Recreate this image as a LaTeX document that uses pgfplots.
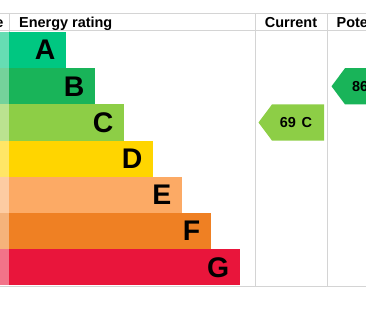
\documentclass[border=0pt]{standalone}
\usepackage{pgfplots}
\pgfplotsset{compat=1.18}
\usepackage{fontspec}
\setmainfont{Liberation Sans}
\definecolor{cA}{HTML}{00C781}
\definecolor{cB}{HTML}{19B459}
\definecolor{cC}{HTML}{8DCE46}
\definecolor{cD}{HTML}{FFD500}
\definecolor{cE}{HTML}{FCAA65}
\definecolor{cF}{HTML}{EF8023}
\definecolor{cG}{HTML}{E9153B}
\definecolor{gridc}{HTML}{D4D4D4}
\begin{document}
\begin{tikzpicture}
\clip (0,0) rectangle (366bp,311bp);
\begin{axis}[at={(0,0)}, anchor=south west, scale only axis,
  width=366bp, height=311bp, xmin=0, xmax=366, ymin=0, ymax=311,
  y dir=reverse, axis lines=none, ticks=none, clip=true]
% score column tints
\addplot[fill=cA!60!white, draw=none] coordinates {(0,32) (9,32) (9,68.2) (0,68.2)} --cycle;
\addplot[fill=cB!60!white, draw=none] coordinates {(0,68.2) (9,68.2) (9,104.4) (0,104.4)} --cycle;
\addplot[fill=cC!60!white, draw=none] coordinates {(0,104.4) (9,104.4) (9,140.6) (0,140.6)} --cycle;
\addplot[fill=cD!60!white, draw=none] coordinates {(0,140.6) (9,140.6) (9,176.8) (0,176.8)} --cycle;
\addplot[fill=cE!60!white, draw=none] coordinates {(0,176.8) (9,176.8) (9,213) (0,213)} --cycle;
\addplot[fill=cF!60!white, draw=none] coordinates {(0,213) (9,213) (9,249.2) (0,249.2)} --cycle;
\addplot[fill=cG!60!white, draw=none] coordinates {(0,249.2) (9,249.2) (9,285.4) (0,285.4)} --cycle;
% bands
\addplot[fill=cA, draw=none] coordinates {(9,32) (66,32) (66,68.2) (9,68.2)} --cycle;
\addplot[fill=cB, draw=none] coordinates {(9,68.2) (95,68.2) (95,104.4) (9,104.4)} --cycle;
\addplot[fill=cC, draw=none] coordinates {(9,104.4) (124,104.4) (124,140.6) (9,140.6)} --cycle;
\addplot[fill=cD, draw=none] coordinates {(9,140.6) (153,140.6) (153,176.8) (9,176.8)} --cycle;
\addplot[fill=cE, draw=none] coordinates {(9,176.8) (182,176.8) (182,213) (9,213)} --cycle;
\addplot[fill=cF, draw=none] coordinates {(9,213) (211,213) (211,249.2) (9,249.2)} --cycle;
\addplot[fill=cG, draw=none] coordinates {(9,249.2) (240,249.2) (240,285.4) (9,285.4)} --cycle;
% grid lines
\addplot[gridc, line width=1bp] coordinates {(0,14) (366,14)};
\addplot[gridc, line width=1bp] coordinates {(0,31) (366,31)};
\addplot[gridc, line width=1bp] coordinates {(0,286) (366,286)};
\addplot[gridc, line width=1bp] coordinates {(9,14) (9,32)};
\addplot[gridc, line width=1bp] coordinates {(255,14) (255,286)};
\addplot[gridc, line width=1bp] coordinates {(327,14) (327,286)};
% arrows
\addplot[fill=cC, draw=none] coordinates {(258.5,122.5) (272,104.4) (324,104.4) (324,140.6) (272,140.6)} --cycle;
\addplot[fill=cB, draw=none] coordinates {(331.5,86.3) (345,68.2) (380,68.2) (380,104.4) (345,104.4)} --cycle;
% letters
\foreach \L/\x/\y in {A/55.5/50.1, B/84.5/86.3, C/113.5/122.5, D/142.5/158.7, E/171.5/194.9, F/200.5/231.1, G/229.5/267.3}{
  \edef\temp{\noexpand\node[font=\noexpand\bfseries\noexpand\fontsize{28.5}{28.5}\noexpand\selectfont, anchor=east, inner sep=0pt] at (axis cs:\x,\y) {\L};}
  \temp
}
% headers
\node[font=\bfseries\fontsize{14.5}{14.5}\selectfont, anchor=base east, inner sep=0pt] at (axis cs:3.5,27.5) {Score};
\node[font=\bfseries\fontsize{14.5}{14.5}\selectfont, anchor=base west, inner sep=0pt] at (axis cs:19,27.5) {Energy rating};
\node[font=\bfseries\fontsize{14.5}{14.5}\selectfont, anchor=base, inner sep=0pt] at (axis cs:291,27.5) {Current};
\node[font=\bfseries\fontsize{14.5}{14.5}\selectfont, anchor=base west, inner sep=0pt] at (axis cs:336.5,27.5) {Potential};
% arrow texts
\node[font=\bfseries\fontsize{14.5}{14.5}\selectfont, anchor=center, inner sep=0pt] at (axis cs:296,122.5) {69\hspace{0.4em}C};
\node[font=\bfseries\fontsize{14.5}{14.5}\selectfont, anchor=west, inner sep=0pt] at (axis cs:352,86.3) {86\hspace{0.4em}B};
\end{axis}
\end{tikzpicture}
\end{document}
